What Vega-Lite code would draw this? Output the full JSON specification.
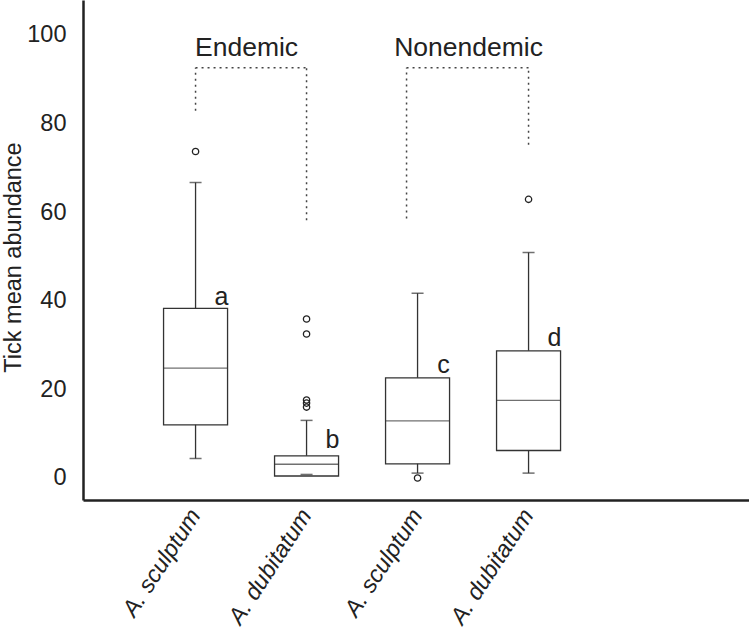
{
  "$schema": "https://vega.github.io/schema/vega-lite/v6.json",
  "width": 666,
  "height": 500,
  "autosize": "none",
  "padding": {"left": 83, "top": 0, "right": 0, "bottom": 134},
  "background": "white",
  "config": {
    "view": {"stroke": null},
    "font": "Liberation Sans"
  },
  "datasets": {
    "boxes": [
      {"grp": "Endemic|A. sculptum", "lower": 4.4, "q1": 12.0, "median": 24.8, "q3": 38.3, "upper": 66.7, "letter": "a", "letter_y": 40.9},
      {"grp": "Endemic|A. dubitatum", "lower": 0.8, "q1": 0.45, "median": 3.1, "q3": 5.0, "upper": 13.0, "letter": "b", "letter_y": 8.6},
      {"grp": "Nonendemic|A. sculptum", "lower": 1.1, "q1": 3.2, "median": 12.9, "q3": 22.6, "upper": 41.7, "letter": "c", "letter_y": 25.5},
      {"grp": "Nonendemic|A. dubitatum", "lower": 1.1, "q1": 6.2, "median": 17.5, "q3": 28.7, "upper": 50.9, "letter": "d", "letter_y": 31.6}
    ],
    "outliers": [
      {"grp": "Endemic|A. sculptum", "value": 73.7},
      {"grp": "Endemic|A. dubitatum", "value": 35.9},
      {"grp": "Endemic|A. dubitatum", "value": 32.5},
      {"grp": "Endemic|A. dubitatum", "value": 17.6},
      {"grp": "Endemic|A. dubitatum", "value": 16.9},
      {"grp": "Endemic|A. dubitatum", "value": 16.0},
      {"grp": "Nonendemic|A. sculptum", "value": 0.0},
      {"grp": "Nonendemic|A. dubitatum", "value": 62.9}
    ],
    "brackets": [
      {"region": "Endemic", "from": "Endemic|A. sculptum", "to": "Endemic|A. dubitatum", "top": 92.6, "left_end": 82.9, "right_end": 58.2},
      {"region": "Nonendemic", "from": "Nonendemic|A. sculptum", "to": "Nonendemic|A. dubitatum", "top": 92.6, "left_end": 58.6, "right_end": 75.2}
    ],
    "titles": [
      {"region": "Endemic", "grp": "Endemic|A. sculptum", "y": 97.1},
      {"region": "Nonendemic", "grp": "Nonendemic|A. sculptum", "y": 97.1}
    ]
  },
  "encoding": {
    "x": {
      "field": "grp",
      "type": "ordinal",
      "sort": ["Endemic|A. sculptum", "Endemic|A. dubitatum", "Nonendemic|A. sculptum", "Nonendemic|A. dubitatum"],
      "scale": {"type": "band", "paddingInner": 0, "paddingOuter": 1, "align": 0.257, "domain": ["Endemic|A. sculptum", "Endemic|A. dubitatum", "Nonendemic|A. sculptum", "Nonendemic|A. dubitatum"]},
      "axis": {
        "title": null,
        "labelExpr": "split(datum.value, '|')[1]",
        "labelAngle": -57,
        "labelAlign": "right",
        "labelBaseline": "middle",
        "labelFontStyle": "italic",
        "labelFontSize": 23.5,
        "labelColor": "#222",
        "labelPadding": 11,
        "ticks": false,
        "domainColor": "#222",
        "domainWidth": 2.5,
        "grid": false
      }
    }
  },
  "layer": [
    {
      "data": {"name": "boxes"},
      "mark": {"type": "rule", "color": "#333", "strokeWidth": 1.3},
      "encoding": {
        "y": {
          "field": "lower",
          "type": "quantitative",
          "scale": {"domain": [-4.97, 107.9], "nice": false, "zero": false},
          "axis": {
            "title": "Tick mean abundance",
            "titleFontSize": 23.5,
            "titleFontWeight": "normal",
            "titleColor": "#222",
            "titlePadding": 1,
            "titleY": 257,
            "values": [0, 20, 40, 60, 80, 100],
            "labelFontSize": 23.5,
            "labelColor": "#222",
            "labelPadding": 17,
            "ticks": false,
            "grid": false,
            "domainColor": "#222",
            "domainWidth": 2.5
          }
        },
        "y2": {"field": "upper"}
      }
    },
    {
      "data": {"name": "boxes"},
      "mark": {"type": "bar", "size": 64, "fill": "white", "stroke": "#333", "strokeWidth": 1.3},
      "encoding": {
        "y": {"field": "q1", "type": "quantitative"},
        "y2": {"field": "q3"}
      }
    },
    {
      "data": {"name": "boxes"},
      "mark": {"type": "tick", "size": 64, "thickness": 1.3, "color": "#333"},
      "encoding": {"y": {"field": "median", "type": "quantitative"}}
    },
    {
      "data": {"name": "boxes"},
      "mark": {"type": "tick", "size": 12, "thickness": 1.5, "color": "#333"},
      "encoding": {"y": {"field": "lower", "type": "quantitative"}}
    },
    {
      "data": {"name": "boxes"},
      "mark": {"type": "tick", "size": 12, "thickness": 1.5, "color": "#333"},
      "encoding": {"y": {"field": "upper", "type": "quantitative"}}
    },
    {
      "data": {"name": "outliers"},
      "mark": {"type": "point", "shape": "circle", "size": 40, "filled": false, "stroke": "#222", "strokeWidth": 1.3, "opacity": 1},
      "encoding": {"y": {"field": "value", "type": "quantitative"}}
    },
    {
      "data": {"name": "boxes"},
      "mark": {"type": "text", "fontSize": 25, "color": "#222", "dx": 26, "align": "center", "baseline": "middle"},
      "encoding": {
        "y": {"field": "letter_y", "type": "quantitative"},
        "text": {"field": "letter"}
      }
    },
    {
      "data": {"name": "brackets"},
      "transform": [{"filter": "datum.region === 'Endemic'"}],
      "mark": {"type": "rule", "color": "#444", "strokeWidth": 1.5, "strokeDash": [2, 4]},
      "encoding": {
        "x": {"field": "from", "type": "ordinal"},
        "x2": {"field": "to"},
        "y": {"field": "top", "type": "quantitative"}
      }
    },
    {
      "data": {"name": "brackets"},
      "transform": [{"filter": "datum.region === 'Nonendemic'"}],
      "mark": {"type": "rule", "color": "#444", "strokeWidth": 1.5, "strokeDash": [2, 4]},
      "encoding": {
        "x": {"field": "from", "type": "ordinal"},
        "x2": {"field": "to"},
        "xOffset": {"value": 44.5},
        "y": {"field": "top", "type": "quantitative"}
      }
    },
    {
      "data": {"name": "brackets"},
      "transform": [{"filter": "datum.region === 'Endemic'"}],
      "mark": {"type": "rule", "color": "#444", "strokeWidth": 1.5, "strokeDash": [2, 4]},
      "encoding": {
        "x": {"field": "from", "type": "ordinal"},
        "y": {"field": "left_end", "type": "quantitative"},
        "y2": {"field": "top"}
      }
    },
    {
      "data": {"name": "brackets"},
      "transform": [{"filter": "datum.region === 'Nonendemic'"}],
      "mark": {"type": "rule", "color": "#444", "strokeWidth": 1.5, "strokeDash": [2, 4]},
      "encoding": {
        "x": {"field": "from", "type": "ordinal"},
        "xOffset": {"value": 44.5},
        "y": {"field": "left_end", "type": "quantitative"},
        "y2": {"field": "top"}
      }
    },
    {
      "data": {"name": "brackets"},
      "mark": {"type": "rule", "color": "#444", "strokeWidth": 1.5, "strokeDash": [2, 4]},
      "encoding": {
        "x": {"field": "to", "type": "ordinal"},
        "y": {"field": "right_end", "type": "quantitative"},
        "y2": {"field": "top"}
      }
    },
    {
      "data": {"name": "titles"},
      "mark": {"type": "text", "fontSize": 26.5, "color": "#222", "dx": 51, "align": "center", "baseline": "middle"},
      "encoding": {
        "y": {"field": "y", "type": "quantitative"},
        "text": {"field": "region"}
      }
    }
  ]
}
